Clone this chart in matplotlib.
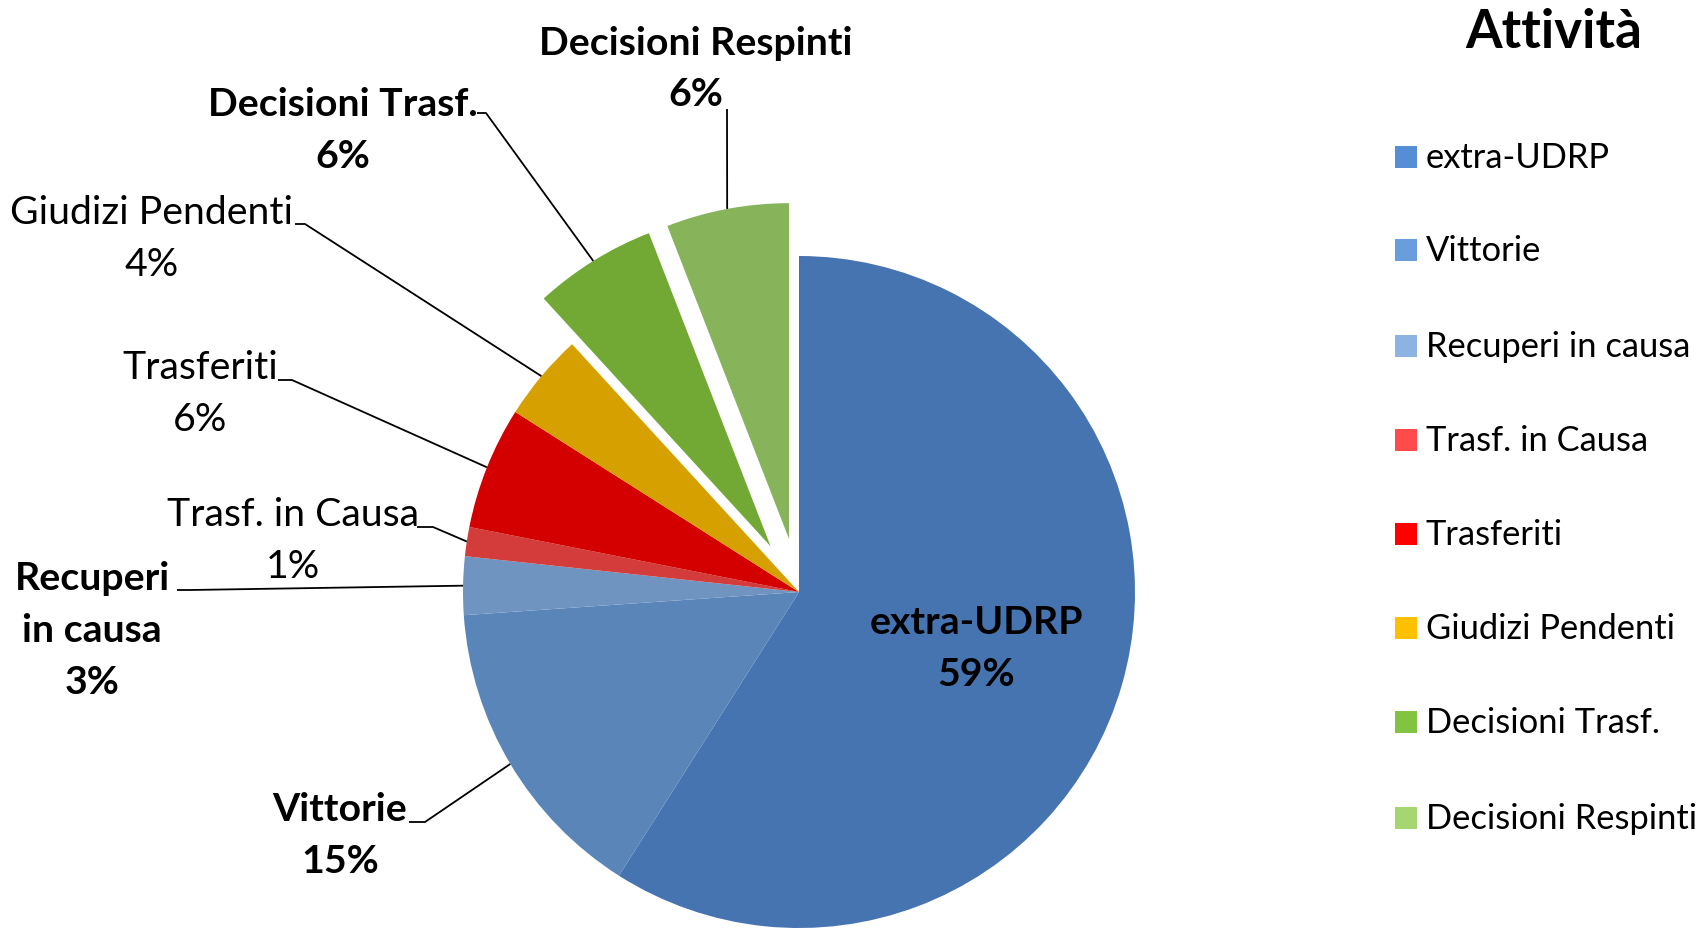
import numpy as np
import matplotlib
matplotlib.use("Agg")
import matplotlib.pyplot as plt
from matplotlib.patches import Rectangle

plt.rcParams['font.family'] = ['Lato', 'DejaVu Sans']

# ---- data ----
categories = ["extra-UDRP", "Vittorie", "Recuperi in causa", "Trasf. in Causa",
              "Trasferiti", "Giudizi Pendenti", "Decisioni Trasf.", "Decisioni Respinti"]
values = [59, 14.9, 2.8, 1.4, 5.9, 4.2, 5.9, 5.9]
pie_colors = ["#4674B0", "#5A85B8", "#7094C0", "#D43B3B", "#D40000", "#D6A100", "#72A834", "#87B35B"]
legend_colors = ["#558ED5", "#6A9DDC", "#8DB3E2", "#FF4B4B", "#FF0000", "#FFC000", "#82C341", "#A6D672"]
legend_title = "Attività"
explode = [0, 0, 0, 0, 0, 0, 0.16, 0.16]

W, H = 1698, 929
DPI = 100
CX, CY, R = 799, 593, 336  # pie centre / radius in pixels

fig = plt.figure(figsize=(W / DPI, H / DPI), dpi=DPI)
ax = fig.add_axes([0, 0, 1, 1])

ax.pie(values, startangle=90, counterclock=False, colors=pie_colors,
       explode=explode, radius=1, center=(0, 0),
       wedgeprops=dict(linewidth=0))
ax.set_xlim(-CX / R, (W - CX) / R)
ax.set_ylim(-(H - CY) / R, CY / R)
ax.set_aspect('auto')
ax.axis('off')


def px(x, y):
    return (x - CX) / R, (CY - y) / R


total = float(sum(values))
cum = np.cumsum([0] + values[:-1])
mid_frac = (cum + np.array(values) / 2.0) / total


def edge_point(i):
    ang = np.deg2rad(90 - 360 * mid_frac[i])
    r = 1 + explode[i]
    return r * np.cos(ang), r * np.sin(ang)


pct = [f"{v / total * 100:.0f}%" for v in values]

# label layout: (index, centre x px, first line y px, bold, lines, leader start px list)
LS = 52
FS = 28.3
layout = [
    (0, 976, 622, True, ["extra-UDRP"], None),
    (1, 340, 810, True, ["Vittorie"], [(409, 823), (425, 823)]),
    (2, 92, 579, True, ["Recuperi", "in causa"], [(177, 591), (190, 591)]),
    (3, 293, 515, False, ["Trasf. in Causa"], [(417, 528), (433, 528)]),
    (4, 200, 368, False, ["Trasferiti"], [(278, 381), (292, 381)]),
    (5, 152, 213, False, ["Giudizi Pendenti"], [(295, 225), (305, 225)]),
    (6, 343, 104, True, ["Decisioni Trasf."], [(477, 114), (486, 114)]),
    (7, 696, 43, True, ["Decisioni Respinti"], [(727, 110)]),
]

for i, xc, y0, bold, lines, lead in layout:
    all_lines = lines + [pct[i]]
    for k, t in enumerate(all_lines):
        x, y = px(xc, y0 + k * LS)
        ax.text(x, y, t, ha='center', va='center', fontsize=FS,
                fontweight='bold' if bold else 'normal', color='black')
    if lead is not None:
        pts = [px(a, b) for a, b in lead] + [edge_point(i)]
        xs, ys = zip(*pts)
        ax.plot(xs, ys, color='black', lw=1.3, solid_capstyle='butt')

# ---- legend ----
fig.text(1554 / W, 1 - 32 / H, legend_title, ha='center', va='center',
         fontsize=38, fontweight='bold')
leg_y = [158, 251, 347, 441, 535, 629, 723, 819]
for name, col, yy in zip(categories, legend_colors, leg_y):
    fig.patches.append(Rectangle(((1395) / W, 1 - (yy + 11) / H), 22 / W, 22 / H,
                                 transform=fig.transFigure, facecolor=col,
                                 edgecolor='none'))
    fig.text(1426 / W, 1 - yy / H, name, ha='left', va='center', fontsize=24.8)

fig.savefig("out.png", dpi=DPI)
